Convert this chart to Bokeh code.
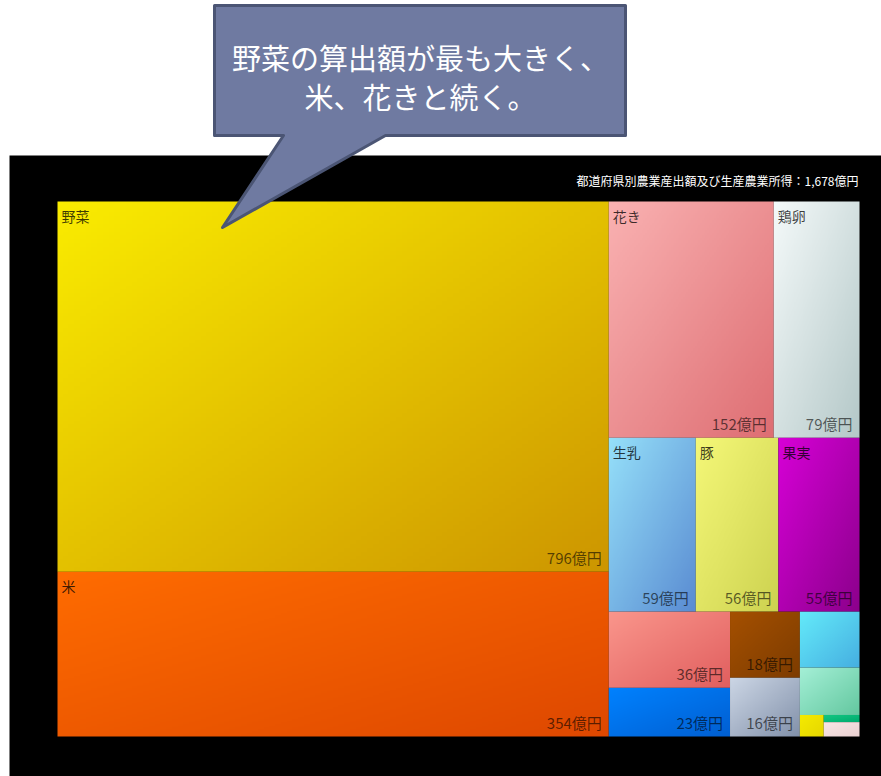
import numpy as np
from bokeh.plotting import figure
from bokeh.models import Range1d
from bokeh.core.properties import value
from bokeh.embed import file_html
from bokeh.resources import INLINE

# ---------------- data ----------------
names = ["野菜", "米", "花き", "鶏卵", "生乳", "豚", "果実",
         "いも類", "肉用牛", "麦類", "工芸農作物", "豆類",
         "その他畜産物", "雑穀", "加工農産物", "その他"]
values = [796, 354, 152, 79, 59, 56, 55, 36, 23, 18, 16, 13, 11, 2, 1, 2]
show_name = [True] * 7 + [False] * 9
show_value = [True] * 11 + [False] * 5
total_value = 1678
header_text = "都道府県別農業産出額及び生産農業所得："
callout_lines = ["野菜の算出額が最も大きく、", "米、花きと続く。"]

# gradient colours (top-left, bottom-right)
colors_tl = [(250, 236, 0), (255, 108, 0), (250, 178, 178), (245, 250, 250),
             (150, 225, 250), (245, 248, 120), (215, 0, 215), (250, 150, 140),
             (0, 130, 255), (165, 80, 0), (205, 215, 230), (100, 235, 250),
             (165, 240, 215), (245, 235, 0), (20, 200, 130), (250, 230, 230)]
colors_br = [(205, 150, 0), (222, 72, 0), (222, 110, 115), (180, 200, 200),
             (90, 140, 210), (205, 210, 80), (140, 0, 140), (225, 95, 95),
             (0, 95, 210), (125, 60, 0), (130, 145, 170), (70, 175, 225),
             (100, 200, 160), (230, 215, 0), (0, 170, 110), (235, 210, 210)]

# nesting of the treemap (h = split left-right, v = split top-bottom)
tree = ("h", [("v", [0, 1]),
              ("v", [("h", [2, 3]),
                     ("h", [4, 5, 6]),
                     ("h", [("v", [7, 8]),
                            ("v", [9, 10]),
                            ("v", [11, 12, ("h", [13, ("v", [14, 15])])])])])])

W, H = 881, 776
FONT = value("Noto Sans CJK JP")


def fx(px):
    return px


def fy(py):
    return H - py


def node_sum(node):
    if isinstance(node, int):
        return values[node]
    return sum(node_sum(c) for c in node[1])


rects = {}


def layout(node, x0, y0, x1, y1):
    # y0 = top, y1 = bottom (figure coords, y up => y0 > y1)
    if isinstance(node, int):
        rects[node] = (x0, y0, x1, y1)
        return
    orient, children = node
    tot = node_sum(node)
    if orient == "h":
        cx = x0
        for c in children:
            w = (x1 - x0) * node_sum(c) / tot
            layout(c, cx, y0, cx + w, y1)
            cx += w
    else:
        cy = y0
        for c in children:
            h = (y0 - y1) * node_sum(c) / tot
            layout(c, x0, cy, x1, cy - h)
            cy -= h


layout(tree, fx(57), fy(201), fx(859), fy(736))

p = figure(width=W, height=H, output_backend="svg", toolbar_location=None,
           x_range=Range1d(0, W), y_range=Range1d(0, H), min_border=0)
p.xaxis.visible = False
p.yaxis.visible = False
p.grid.visible = False
p.outline_line_color = None
p.background_fill_color = "white"
p.border_fill_color = "white"

# black panel
p.quad(left=[fx(9)], right=[W], top=[fy(155)], bottom=[0],
       fill_color="black", line_color=None)

# gradient cells
N = 96
uu, vv = np.meshgrid(np.linspace(0, 1, N), np.linspace(1, 0, N))  # rows bottom->top
tgrid = (uu + vv) / 2.0
for i in range(len(values)):
    x0, y0, x1, y1 = rects[i]
    tl = np.array(colors_tl[i], dtype=float)
    br = np.array(colors_br[i], dtype=float)
    rgb = tl[None, None, :] + (br - tl)[None, None, :] * tgrid[:, :, None]
    img = np.empty((N, N), dtype=np.uint32)
    view = img.view(dtype=np.uint8).reshape((N, N, 4))
    view[:, :, 0] = rgb[:, :, 0].astype(np.uint8)
    view[:, :, 1] = rgb[:, :, 1].astype(np.uint8)
    view[:, :, 2] = rgb[:, :, 2].astype(np.uint8)
    view[:, :, 3] = 255
    p.image_rgba(image=[img], x=x0, y=y1, dw=x1 - x0, dh=y0 - y1)

# labels
nx, ny, nt = [], [], []
vx, vy, vt = [], [], []
for i in range(len(values)):
    x0, y0, x1, y1 = rects[i]
    if show_name[i]:
        nx.append(x0 + 4)
        ny.append(y0 - 4)
        nt.append(names[i])
    if show_value[i]:
        vx.append(x1 - 7)
        vy.append(y1 + 4)
        vt.append(f"{values[i]}億円")

p.text(x=nx, y=ny, text=nt, text_font=FONT, text_font_size="14px",
       text_align="left", text_baseline="top", text_color="black", text_alpha=0.75)
p.text(x=vx, y=vy, text=vt, text_font=FONT, text_font_size="15px",
       text_align="right", text_baseline="bottom", text_color="black", text_alpha=0.6)

# header
p.text(x=[fx(858)], y=[fy(180)], text=[f"{header_text}{total_value:,}億円"],
       text_font=FONT, text_font_size="12px", text_align="right",
       text_baseline="middle", text_color="white")

# callout
cxs = [214, 625, 625, 385, 222, 283, 214]
cys = [5, 5, 135, 135, 227, 135, 135]
p.patch(x=[fx(v) for v in cxs], y=[fy(v) for v in cys],
        fill_color="#6F7AA1", line_color="#4B5574", line_width=3,
        line_join="round")
p.text(x=[fx(420), fx(420)], y=[fy(56), fy(95)], text=callout_lines,
       text_font=FONT, text_font_size="29px", text_align="center",
       text_baseline="middle", text_color="white")

open("out.html", "w").write(file_html(p, INLINE))
